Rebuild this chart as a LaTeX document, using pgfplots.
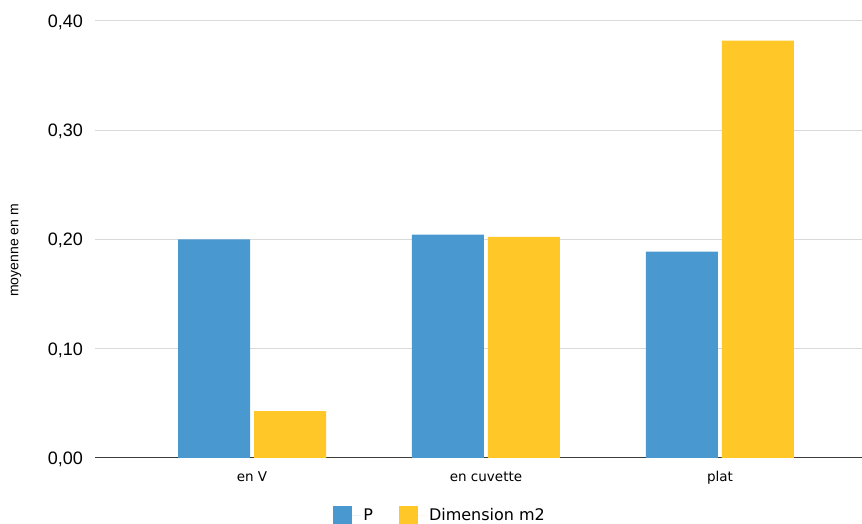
\documentclass[border=0pt]{standalone}
\usepackage{fontspec}
\setmainfont{Liberation Sans}
\newfontfamily\dejavu{DejaVu Sans}
\usepackage{pgfplots}
\pgfplotsset{compat=1.18}

\definecolor{barblue}{HTML}{4A98D0}
\definecolor{baryellow}{HTML}{FFC828}
\definecolor{gridgray}{HTML}{D9D9D9}
\definecolor{axisgray}{HTML}{3C3C3C}

\pgfplotsset{
  sq/.style={legend image code/.code={\fill[##1,draw=none] (0pt,-9pt) rectangle (19pt,9pt);
      \path (0pt,0pt) -- (28pt,0pt);}}
}

\begin{document}
\begin{tikzpicture}
\path[use as bounding box] (-95pt,-66pt) rectangle (767pt,458pt);
\begin{axis}[
    at={(0pt,0pt)}, anchor=south west,
    scale only axis,
    width=767pt, height=437pt,
    ybar,
    bar width=72pt,
    xmin=-0.671, xmax=2.607,
    ymin=0, ymax=0.4,
    xtick={0,1,2},
    xticklabels={en V, en cuvette, plat},
    ytick={0,0.1,0.2,0.3,0.4},
    major tick length=0pt,
    axis x line*=bottom,
    axis y line*=left,
    y axis line style={draw=none},
    x axis line style={draw=axisgray, line width=1pt},
    ymajorgrids,
    grid style={draw=gridgray, line width=1pt},
    /pgf/number format/.cd, fixed, fixed zerofill, precision=2, use comma, assume math mode=true,
    /pgfplots/.cd,
    yticklabel style={font=\fontsize{18}{20}\selectfont, anchor=base east, inner sep=0pt, xshift=-12pt, yshift=-6.5pt},
    xticklabel style={font=\dejavu\fontsize{13.5}{16}\selectfont, anchor=north, inner sep=0pt, text height=10pt, text depth=3pt, yshift=-13pt},
    ylabel={moyenne en m},
    ylabel style={font=\fontsize{14}{16}\selectfont, at={(axis description cs:-0.103,0.475)}, anchor=center, rotate=0},
    legend style={at={(axis description cs:0.45,-0.131)}, anchor=center, draw=none, fill=none,
      font=\dejavu\fontsize{16}{18}\selectfont, inner sep=0pt,
      /tikz/every even column/.append style={column sep=24pt}},
    legend columns=2,
]
\addplot+[sq, fill=barblue, draw=none, bar shift=-38pt] coordinates {(0,0.200) (1,0.2045) (2,0.189)};
\addplot+[sq, fill=baryellow, draw=none, bar shift=38pt] coordinates {(0,0.043) (1,0.2025) (2,0.382)};
\legend{P, Dimension m2}
\end{axis}
\end{tikzpicture}
\end{document}
